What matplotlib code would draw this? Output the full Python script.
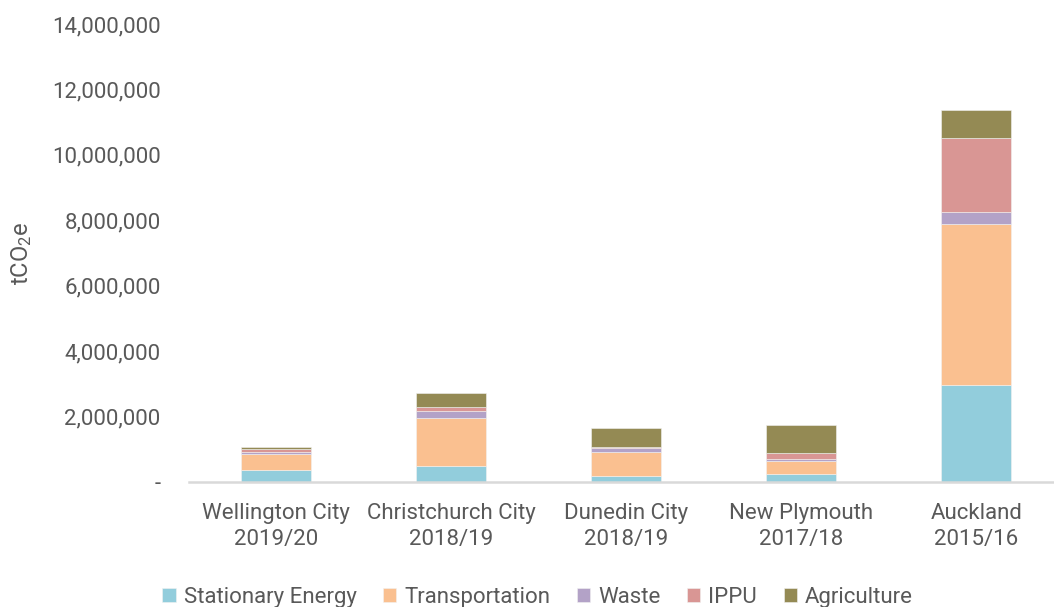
import matplotlib
matplotlib.use("Agg")
import matplotlib.pyplot as plt
from matplotlib.ticker import FuncFormatter, MultipleLocator
from matplotlib import font_manager

categories = ["Wellington City\n2019/20", "Christchurch City\n2018/19", "Dunedin City\n2018/19",
              "New Plymouth\n2017/18", "Auckland\n2015/16"]
series_names = ["Stationary Energy", "Transportation", "Waste", "IPPU", "Agriculture"]
stationary = [360000, 500000, 180000, 240000, 2980000]
transport = [510000, 1470000, 740000, 400000, 4910000]
waste = [60000, 190000, 120000, 70000, 360000]
ippu = [90000, 120000, 40000, 190000, 2270000]
agriculture = [40000, 430000, 580000, 830000, 840000]
colors = ["#92CDDC", "#FAC090", "#B3A2C7", "#D99694", "#948A54"]

avail = {f.name for f in font_manager.fontManager.ttflist}
fam = [f for f in ["Liberation Sans Narrow", "Roboto", "DejaVu Sans"] if f in avail]
plt.rcParams['font.family'] = fam
plt.rcParams['mathtext.fontset'] = 'custom'
plt.rcParams['mathtext.rm'] = fam[0]
plt.rcParams['mathtext.it'] = fam[0]
txt = "#595959"

fig = plt.figure(figsize=(10.54, 6.07), dpi=100)
ax = fig.add_axes([188.5 / 1054, 125 / 607, (1054 - 188.5) / 1054, 458 / 607])

x = list(range(len(categories)))
bottom = [0] * len(categories)
for name, vals, c in zip(series_names, [stationary, transport, waste, ippu, agriculture], colors):
    ax.bar(x, vals, width=0.4, bottom=bottom, color=c, label=name, edgecolor="#F2F2F2", linewidth=0.4)
    bottom = [b + v for b, v in zip(bottom, vals)]

ax.set_xlim(-0.5, 4.5 - 10 / 175)
ax.set_ylim(0, 14000000)
ax.yaxis.set_major_locator(MultipleLocator(2000000))
ax.yaxis.set_major_formatter(FuncFormatter(lambda v, p: "-" if v == 0 else f"{int(v):,}"))
ax.set_xticks(x)
ax.set_xticklabels(categories)
for s in ["top", "right", "left"]:
    ax.spines[s].set_visible(False)
ax.spines["bottom"].set_color("#D9D9D9")
ax.spines["bottom"].set_linewidth(1.8)
ax.tick_params(axis="both", length=0, colors=txt, labelsize=16)
ax.tick_params(axis="y", pad=20)
ax.tick_params(axis="x", pad=15)
for lab in ax.get_xticklabels():
    lab.set_linespacing(1.35)
ax.set_ylabel(r"tCO$_2$e", color=txt, fontsize=17)
ax.yaxis.set_label_coords((34 - 188.5) / 865.5, 0.5)

fig.legend(loc="upper center", bbox_to_anchor=(0.51, 40 / 607), ncol=5, frameon=False,
           fontsize=16, labelcolor=txt, handlelength=0.6, handleheight=0.6, handletextpad=0.35,
           columnspacing=1.2)

fig.savefig("out.png", dpi=100)
